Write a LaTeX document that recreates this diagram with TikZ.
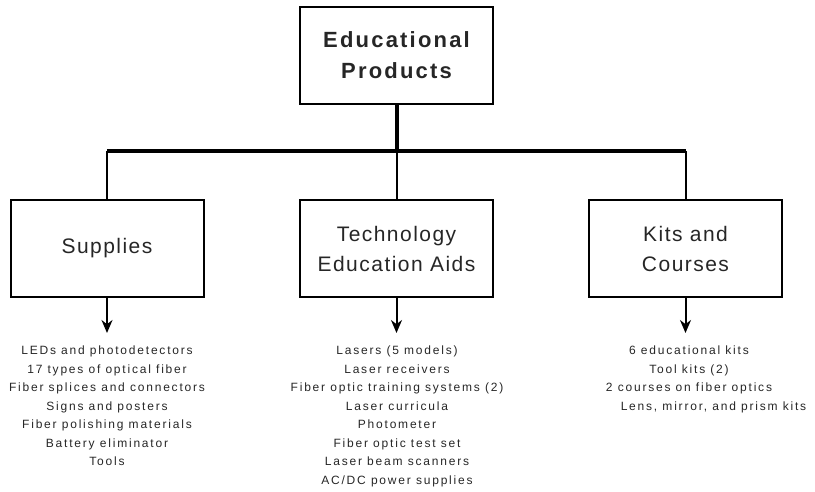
\documentclass[tikz,border=0pt]{standalone}
\usepackage{fontspec}
\setmainfont{Liberation Sans}
\newfontfamily\headfont[LetterSpace=10]{Liberation Sans}
\newfontfamily\boxfont[LetterSpace=7]{Liberation Sans}
\newfontfamily\listfont[LetterSpace=15]{Liberation Sans}
\usetikzlibrary{arrows.meta}

\begin{document}
\begin{tikzpicture}[x=1pt,y=-1pt]
	\useasboundingbox (0,0) rectangle (815,491);
	\tikzstyle{Box} = [draw, line width=2pt, minimum width=193pt, minimum height=97pt, inner sep=0pt, align=center, text=black!85]
	\tikzstyle{Head} = [font=\headfont\bfseries\fontsize{22}{31}\selectfont]
	\tikzstyle{Sub} = [font=\boxfont\fontsize{21}{30}\selectfont]
	\tikzstyle{List} = [anchor=north, inner sep=0pt, align=center, text=black!85, font=\listfont\fontsize{12}{18.5}\selectfont]
	\tikzstyle{Bus} = [line width=4pt]
	\tikzstyle{Link} = [line width=2pt]
	\tikzstyle{Arr} = [line width=2pt, -{Stealth[length=13pt,width=11pt]}, shorten >=13pt]

	\node[Box, Head] (edu) at (396.5,55.5) {Educational\\Products};
	\node[Box, Sub] (sup) at (107,248.5) {Supplies};
	\node[Box, Sub] (tea) at (396.5,248.5) {Technology\\Education Aids};
	\node[Box, Sub] (kit) at (685.5,248.5) {Kits and\\Courses};

	\node[List] (supl) at (107,346) {LEDs and photodetectors\\17 types of optical fiber\\Fiber splices and connectors\\Signs and posters\\Fiber polishing materials\\Battery eliminator\\Tools};
	\node[List] (teal) at (397,346) {Lasers (5 models)\\Laser receivers\\Fiber optic training systems (2)\\Laser curricula\\Photometer\\Fiber optic test set\\Laser beam scanners\\AC/DC power supplies};
	\node[List] (kitl) at (689,346) {6 educational kits\\Tool kits (2)\\2 courses on fiber optics\\\hspace*{49pt}Lens, mirror, and prism kits};

	\coordinate (bar) at (edu.south |- 0,151);
	\coordinate (busL) at (sup.north |- bar);
	\coordinate (busR) at (kit.north |- bar);
	\draw[Bus] (edu.south) -- (bar);
	\draw[Bus] (busL) -- (busR);
	\draw[Link] (busL) -- (sup.north);
	\draw[Link] (bar) -- (tea.north);
	\draw[Link] (busR) -- (kit.north);

	\draw[Arr] (sup.south) -- (supl.north);
	\draw[Arr] (tea.south) -- (tea.south |- teal.north);
	\draw[Arr] (kit.south) -- (kit.south |- kitl.north);
\end{tikzpicture}
\end{document}
